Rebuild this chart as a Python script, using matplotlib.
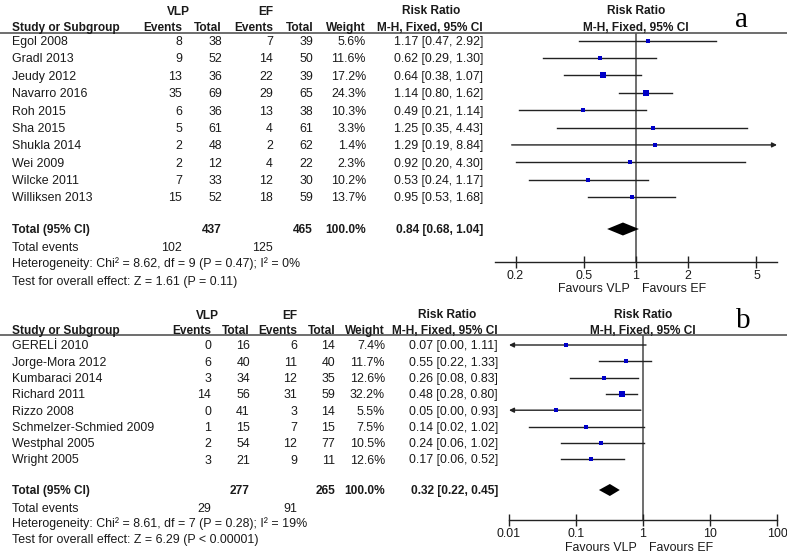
import numpy as np
import matplotlib
matplotlib.use("Agg")
import matplotlib.pyplot as plt

plt.rcParams['font.family'] = ['Liberation Sans', 'DejaVu Sans']

# ---------------- data: panel a ----------------
studies_a = ["Egol 2008", "Gradl 2013", "Jeudy 2012", "Navarro 2016", "Roh 2015",
             "Sha 2015", "Shukla 2014", "Wei 2009", "Wilcke 2011", "Williksen 2013"]
vlp_events_a = [8, 9, 13, 35, 6, 5, 2, 2, 7, 15]
vlp_total_a = [38, 52, 36, 69, 36, 61, 48, 12, 33, 52]
ef_events_a = [7, 14, 22, 29, 13, 4, 2, 4, 12, 18]
ef_total_a = [39, 50, 39, 65, 38, 61, 62, 22, 30, 59]
weight_a = [5.6, 11.6, 17.2, 24.3, 10.3, 3.3, 1.4, 2.3, 10.2, 13.7]
rr_a = [1.17, 0.62, 0.64, 1.14, 0.49, 1.25, 1.29, 0.92, 0.53, 0.95]
lo_a = [0.47, 0.29, 0.38, 0.80, 0.21, 0.35, 0.19, 0.20, 0.24, 0.53]
hi_a = [2.92, 1.30, 1.07, 1.62, 1.14, 4.43, 8.84, 4.30, 1.17, 1.68]
sum_totals_a = [437, 465]
sum_events_a = [102, 125]
pooled_a = [0.84, 0.68, 1.04]
het_a = "Heterogeneity: Chi\u00b2 = 8.62, df = 9 (P = 0.47); I\u00b2 = 0%"
test_a = "Test for overall effect: Z = 1.61 (P = 0.11)"
ticks_a = [0.2, 0.5, 1, 2, 5]
ticklabels_a = ["0.2", "0.5", "1", "2", "5"]

# ---------------- data: panel b ----------------
studies_b = ["GEREL\u0130 2010", "Jorge-Mora 2012", "Kumbaraci 2014", "Richard 2011",
             "Rizzo 2008", "Schmelzer-Schmied 2009", "Westphal 2005", "Wright 2005"]
vlp_events_b = [0, 6, 3, 14, 0, 1, 2, 3]
vlp_total_b = [16, 40, 34, 56, 41, 15, 54, 21]
ef_events_b = [6, 11, 12, 31, 3, 7, 12, 9]
ef_total_b = [14, 40, 35, 59, 14, 15, 77, 11]
weight_b = [7.4, 11.7, 12.6, 32.2, 5.5, 7.5, 10.5, 12.6]
rr_b = [0.07, 0.55, 0.26, 0.48, 0.05, 0.14, 0.24, 0.17]
lo_b = [0.00, 0.22, 0.08, 0.28, 0.00, 0.02, 0.06, 0.06]
hi_b = [1.11, 1.33, 0.83, 0.80, 0.93, 1.02, 1.02, 0.52]
sum_totals_b = [277, 265]
sum_events_b = [29, 91]
pooled_b = [0.32, 0.22, 0.45]
het_b = "Heterogeneity: Chi\u00b2 = 8.61, df = 7 (P = 0.28); I\u00b2 = 19%"
test_b = "Test for overall effect: Z = 6.29 (P < 0.00001)"
ticks_b = [0.01, 0.1, 1, 10, 100]
ticklabels_b = ["0.01", "0.1", "1", "10", "100"]

W, H = 787, 555
fig = plt.figure(figsize=(W / 100, H / 100), dpi=100)
bg = fig.add_axes([0, 0, 1, 1])
bg.set_xlim(0, W)
bg.set_ylim(H, 0)
bg.axis('off')

FS = 8.9
FSB = 8.6
TXT = '#1a1a1a'
LINE = '#222222'
BLUE = '#0000c8'
CAP = 4.4  # half cap height in px


def txt(x, y, s, ha='left', bold=False, **kw):
    bg.text(x, y + CAP, s, ha=ha, va='baseline', fontsize=FSB if bold else FS, color=TXT,
            fontweight='bold' if bold else 'normal', **kw)


def panel(L, studies, ve, vt, ee, et, wt, rr, lo, hi, totals, events, pooled,
          het, test, ticks, ticklabels, xlim, letter):
    # headers
    txt(L['vlp_hdr'], L['grp'], "VLP", ha='center', bold=True)
    txt(L['ef_hdr'], L['grp'], "EF", ha='center', bold=True)
    txt(L['rr_hdr'], L['grp'] - 1.5, "Risk Ratio", ha='center', bold=True)
    txt(L['one_px'], L['grp'] - 1.5, "Risk Ratio", ha='center', bold=True)
    txt(12, L['hdr'], "Study or Subgroup", bold=True)
    for xc, s in zip(L['cols'], ["Events", "Total", "Events", "Total", "Weight"]):
        txt(xc, L['hdr'], s, ha='right', bold=True)
    txt(L['rr_col'], L['hdr'] - 0.5, "M-H, Fixed, 95% CI", ha='right', bold=True)
    txt(L['one_px'], L['hdr'] - 0.5, "M-H, Fixed, 95% CI", ha='center', bold=True)
    bg.plot([0, W], [L['line'], L['line']], color='#555555', lw=1.2)
    bg.text(L['letter_x'], L['letter_y'], letter, fontsize=21, family='Liberation Serif',
            ha='center', va='baseline', color='black')

    n = len(studies)
    ys = [L['y0'] + i * L['dy'] for i in range(n)]
    for i in range(n):
        y = ys[i]
        txt(12, y, studies[i])
        vals = [str(ve[i]), str(vt[i]), str(ee[i]), str(et[i]), f"{wt[i]:.1f}%"]
        for xc, s in zip(L['cols'], vals):
            txt(xc, y, s, ha='right')
        txt(L['rr_col'], y, f"{rr[i]:.2f} [{lo[i]:.2f}, {hi[i]:.2f}]", ha='right')

    yt = L['tot']
    txt(12, yt, "Total (95% CI)", bold=True)
    txt(L['cols'][1], yt, str(totals[0]), ha='right', bold=True)
    txt(L['cols'][3], yt, str(totals[1]), ha='right', bold=True)
    txt(L['cols'][4], yt, "100.0%", ha='right', bold=True)
    txt(L['rr_col'], yt, f"{pooled[0]:.2f} [{pooled[1]:.2f}, {pooled[2]:.2f}]", ha='right', bold=True)
    txt(12, L['ev'], "Total events")
    txt(L['cols'][0], L['ev'], str(events[0]), ha='right')
    txt(L['cols'][2], L['ev'], str(events[1]), ha='right')
    txt(12, L['het'], het)
    txt(12, L['test'], test)

    # forest axes
    left, right, top, bot = L['ax']
    ax = fig.add_axes([left / W, (H - bot) / H, (right - left) / W, (bot - top) / H])
    ax.set_facecolor('none')
    ax.set_xscale('log')
    ax.set_xlim(*xlim)
    ax.set_ylim(bot, top)
    for s in ['top', 'left', 'right']:
        ax.spines[s].set_visible(False)
    ax.spines['bottom'].set_color(LINE)
    ax.spines['bottom'].set_linewidth(1.0)
    ax.set_yticks([])
    ax.xaxis.set_minor_locator(matplotlib.ticker.NullLocator())
    ax.set_xticks(ticks)
    ax.set_xticklabels(ticklabels)
    ax.tick_params(axis='x', direction='inout', length=8, width=1.0, color=LINE,
                   labelsize=FS, labelcolor=TXT, pad=1.5)
    ax.axvline(1, color='#555555', lw=1.2, zorder=1)

    for i in range(n):
        y = ys[i]
        a = max(lo[i], xlim[0])
        b = min(hi[i], xlim[1])
        if lo[i] < xlim[0]:
            ax.annotate("", xy=(xlim[0], y), xytext=(b, y),
                        arrowprops=dict(arrowstyle='-|>', color=LINE, lw=1.0,
                                        mutation_scale=7, shrinkA=0, shrinkB=0),
                        annotation_clip=False)
        elif hi[i] > xlim[1]:
            ax.annotate("", xy=(xlim[1], y), xytext=(a, y),
                        arrowprops=dict(arrowstyle='-|>', color=LINE, lw=1.0,
                                        mutation_scale=7, shrinkA=0, shrinkB=0),
                        annotation_clip=False)
        else:
            ax.plot([a, b], [y, y], color=LINE, lw=1.0, zorder=2)
        side_px = max(1.23 * np.sqrt(wt[i]), 3.2)
        ax.plot([rr[i]], [y], marker='s', ms=side_px * 0.72, color=BLUE, mew=0, zorder=3)

    hd = L['dh']
    ax.fill([pooled[1], pooled[0], pooled[2], pooled[0]],
            [yt, yt - hd, yt, yt + hd], color='black', lw=0, zorder=3)

    bg.text(L['one_px'] - 6, L['fav'] + CAP, "Favours VLP", ha='right', va='baseline',
            fontsize=FS, color=TXT)
    bg.text(L['one_px'] + 6, L['fav'] + CAP, "Favours EF", ha='left', va='baseline',
            fontsize=FS, color=TXT)


La = dict(grp=11, hdr=27, line=32.5, y0=40.7, dy=17.37, tot=229, ev=247, het=263, test=281,
          cols=[182, 222, 273, 313, 366], vlp_hdr=178, ef_hdr=266, rr_hdr=431, rr_col=483,
          one_px=636, ax=(495, 777, 32.5, 262), fav=288, dh=6.5, letter_x=742, letter_y=27)
Lb = dict(grp=315, hdr=330, line=334.5, y0=345, dy=16.3, tot=490, ev=508, het=523, test=539,
          cols=[211, 250, 297, 335, 385], vlp_hdr=207, ef_hdr=290, rr_hdr=447, rr_col=498,
          one_px=643, ax=(509, 777, 334.5, 520), fav=547, dh=6, letter_x=743, letter_y=328)

panel(La, studies_a, vlp_events_a, vlp_total_a, ef_events_a, ef_total_a, weight_a,
      rr_a, lo_a, hi_a, sum_totals_a, sum_events_a, pooled_a, het_a, test_a,
      ticks_a, ticklabels_a, (10 ** -0.818, 10 ** 0.818), "a")
panel(Lb, studies_b, vlp_events_b, vlp_total_b, ef_events_b, ef_total_b, weight_b,
      rr_b, lo_b, hi_b, sum_totals_b, sum_events_b, pooled_b, het_b, test_b,
      ticks_b, ticklabels_b, (0.01, 100), "b")

fig.savefig("out.png", dpi=100, facecolor='white')
